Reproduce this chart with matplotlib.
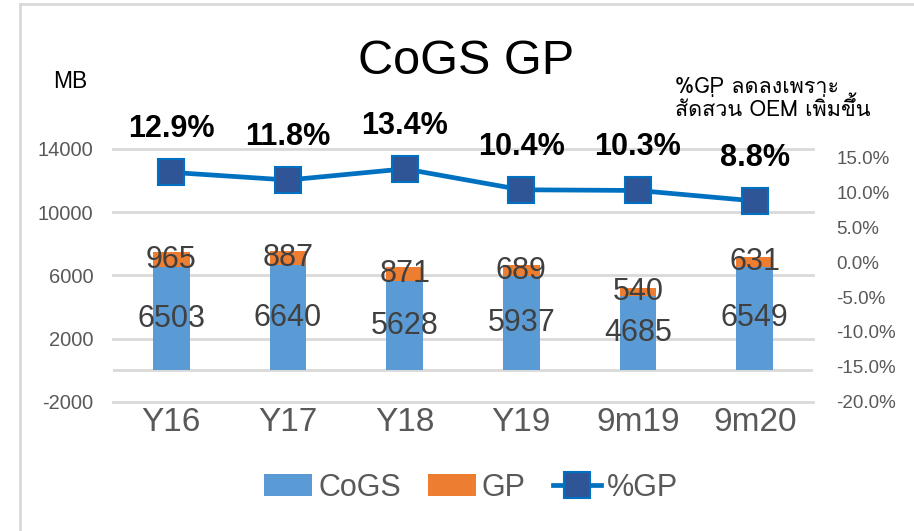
import matplotlib
matplotlib.use("Agg")
import matplotlib.pyplot as plt
import numpy as np
from matplotlib import font_manager
from matplotlib.ft2font import FT2Font
from matplotlib.lines import Line2D
from matplotlib.patches import Patch

categories = ["Y16", "Y17", "Y18", "Y19", "9m19", "9m20"]
cogs = [6503, 6640, 5628, 5937, 4685, 6549]
gp = [965, 887, 871, 689, 540, 631]
gp_pct = [12.9, 11.8, 13.4, 10.4, 10.3, 8.8]
left_ticks = [-2000, 2000, 6000, 10000, 14000]
right_ticks = [-20, -15, -10, -5, 0, 5, 10, 15]

plt.rcParams['axes.unicode_minus'] = False
BASE = "Liberation Sans"


def find_thai_font():
    for f in font_manager.fontManager.ttflist:
        try:
            ft = FT2Font(f.fname)
            if ft.get_char_index(ord('ล')) and ft.get_char_index(ord('ว')):
                return f.name
        except Exception:
            pass
    return None


thai = find_thai_font()
thai_family = [thai, BASE, "DejaVu Sans"] if thai else [BASE, "DejaVu Sans"]

W, H = 914, 531
fig = plt.figure(figsize=(W / 100, H / 100), dpi=100)
fig.patch.set_facecolor("white")

ax_l, ax_r = 113, 813
ax_top, ax_bot = 149, 401.7
ax = fig.add_axes([ax_l / W, 1 - ax_bot / H, (ax_r - ax_l) / W, (ax_bot - ax_top) / H])
ax.set_facecolor("none")

x = np.arange(len(categories))
bw = 0.317
c_cogs = "#5B9BD5"
c_gp = "#ED7D31"
c_line = "#0070C0"
c_mark = "#2F5597"
grid_c = "#D9D9D9"
lab_c = "#404040"
tick_c = "#595959"

ax.set_xlim(-0.5, len(categories) - 0.5)
ax.set_ylim(-2000, 14000)
for t in left_ticks:
    ax.axhline(t, color=grid_c, lw=2, zorder=0, clip_on=False)
ax.axhline(0, color=grid_c, lw=2, zorder=0)

b1 = ax.bar(x, cogs, bw, color=c_cogs, zorder=2)
b2 = ax.bar(x, gp, bw, bottom=cogs, color=c_gp, zorder=2)

for xi, c, g in zip(x, cogs, gp):
    ax.text(xi, c / 2, f"{c}", ha="center", va="center", fontsize=22,
            color=lab_c, family=BASE, zorder=5)
    ax.text(xi, c + g / 2, f"{g}", ha="center", va="center", fontsize=22,
            color=lab_c, family=BASE, zorder=5)

ax.set_yticks(left_ticks)
ax.set_yticklabels([str(t) for t in left_ticks])
ax.set_xticks(x)
ax.set_xticklabels(categories)
ax.tick_params(axis="y", length=0, pad=14, labelsize=14.5, labelcolor=tick_c)
ax.tick_params(axis="x", length=0, pad=4, labelsize=24, labelcolor=tick_c)
for lab in ax.get_yticklabels() + ax.get_xticklabels():
    lab.set_family(BASE)
for s in ax.spines.values():
    s.set_visible(False)

ax2 = ax.twinx()
ax2.set_ylim(-20, 16.25)
ln, = ax2.plot(x, gp_pct, color=c_line, lw=3.4, marker="s", markersize=19,
               markerfacecolor=c_mark, markeredgecolor=c_line, markeredgewidth=1.5,
               zorder=4, clip_on=False)
for xi, p in zip(x, gp_pct):
    ax2.annotate(f"{p:.1f}%", (xi, p), xytext=(0, 31), textcoords="offset points",
                 ha="center", va="center", fontsize=22, fontweight="bold",
                 color="black", family=BASE, annotation_clip=False)
ax2.set_yticks(right_ticks)
ax2.set_yticklabels([f"{t:.1f}%" for t in right_ticks])
ax2.tick_params(axis="y", length=0, pad=17, labelsize=13.5, labelcolor=tick_c)
for lab in ax2.get_yticklabels():
    lab.set_family(BASE)
for s in ax2.spines.values():
    s.set_visible(False)

# title and texts
fig.text(466 / W, 1 - 61 / H, "CoGS GP", ha="center", va="center", fontsize=35,
         color="black", family=BASE)
fig.text(70 / W, 1 - 81 / H, "MB", ha="center", va="center", fontsize=16.5,
         color="black", family=BASE)
fig.text(675 / W, 1 - 99 / H, "%GP ลดลงเพราะ\nสัดส่วน OEM เพิ่มขึ้น", ha="left",
         va="center", fontsize=15.5, color="black", family=thai_family, linespacing=1.0)

handles = [Patch(facecolor=c_cogs), Patch(facecolor=c_gp),
           Line2D([], [], color=c_line, lw=3.4, marker="s", markersize=19,
                  markerfacecolor=c_mark, markeredgecolor=c_line, markeredgewidth=1.5)]
leg = fig.legend(handles, ["CoGS", "GP", "%GP"], loc="center",
                 bbox_to_anchor=(471 / W, 1 - 488 / H), ncol=3, frameon=False,
                 prop={"family": BASE, "size": 22}, handlelength=1.57,
                 handleheight=0.72, handletextpad=0.2, columnspacing=0.88,
                 borderpad=0)
for t in leg.get_texts():
    t.set_color(tick_c)

# outer border
fig.add_artist(Line2D([19.5 / W, 19.5 / W], [0, 1 - 3.5 / H], color=grid_c, lw=2,
                      transform=fig.transFigure))
fig.add_artist(Line2D([19.5 / W, 1], [1 - 3.5 / H, 1 - 3.5 / H], color=grid_c, lw=2,
                      transform=fig.transFigure))

fig.savefig("out.png", dpi=100)
